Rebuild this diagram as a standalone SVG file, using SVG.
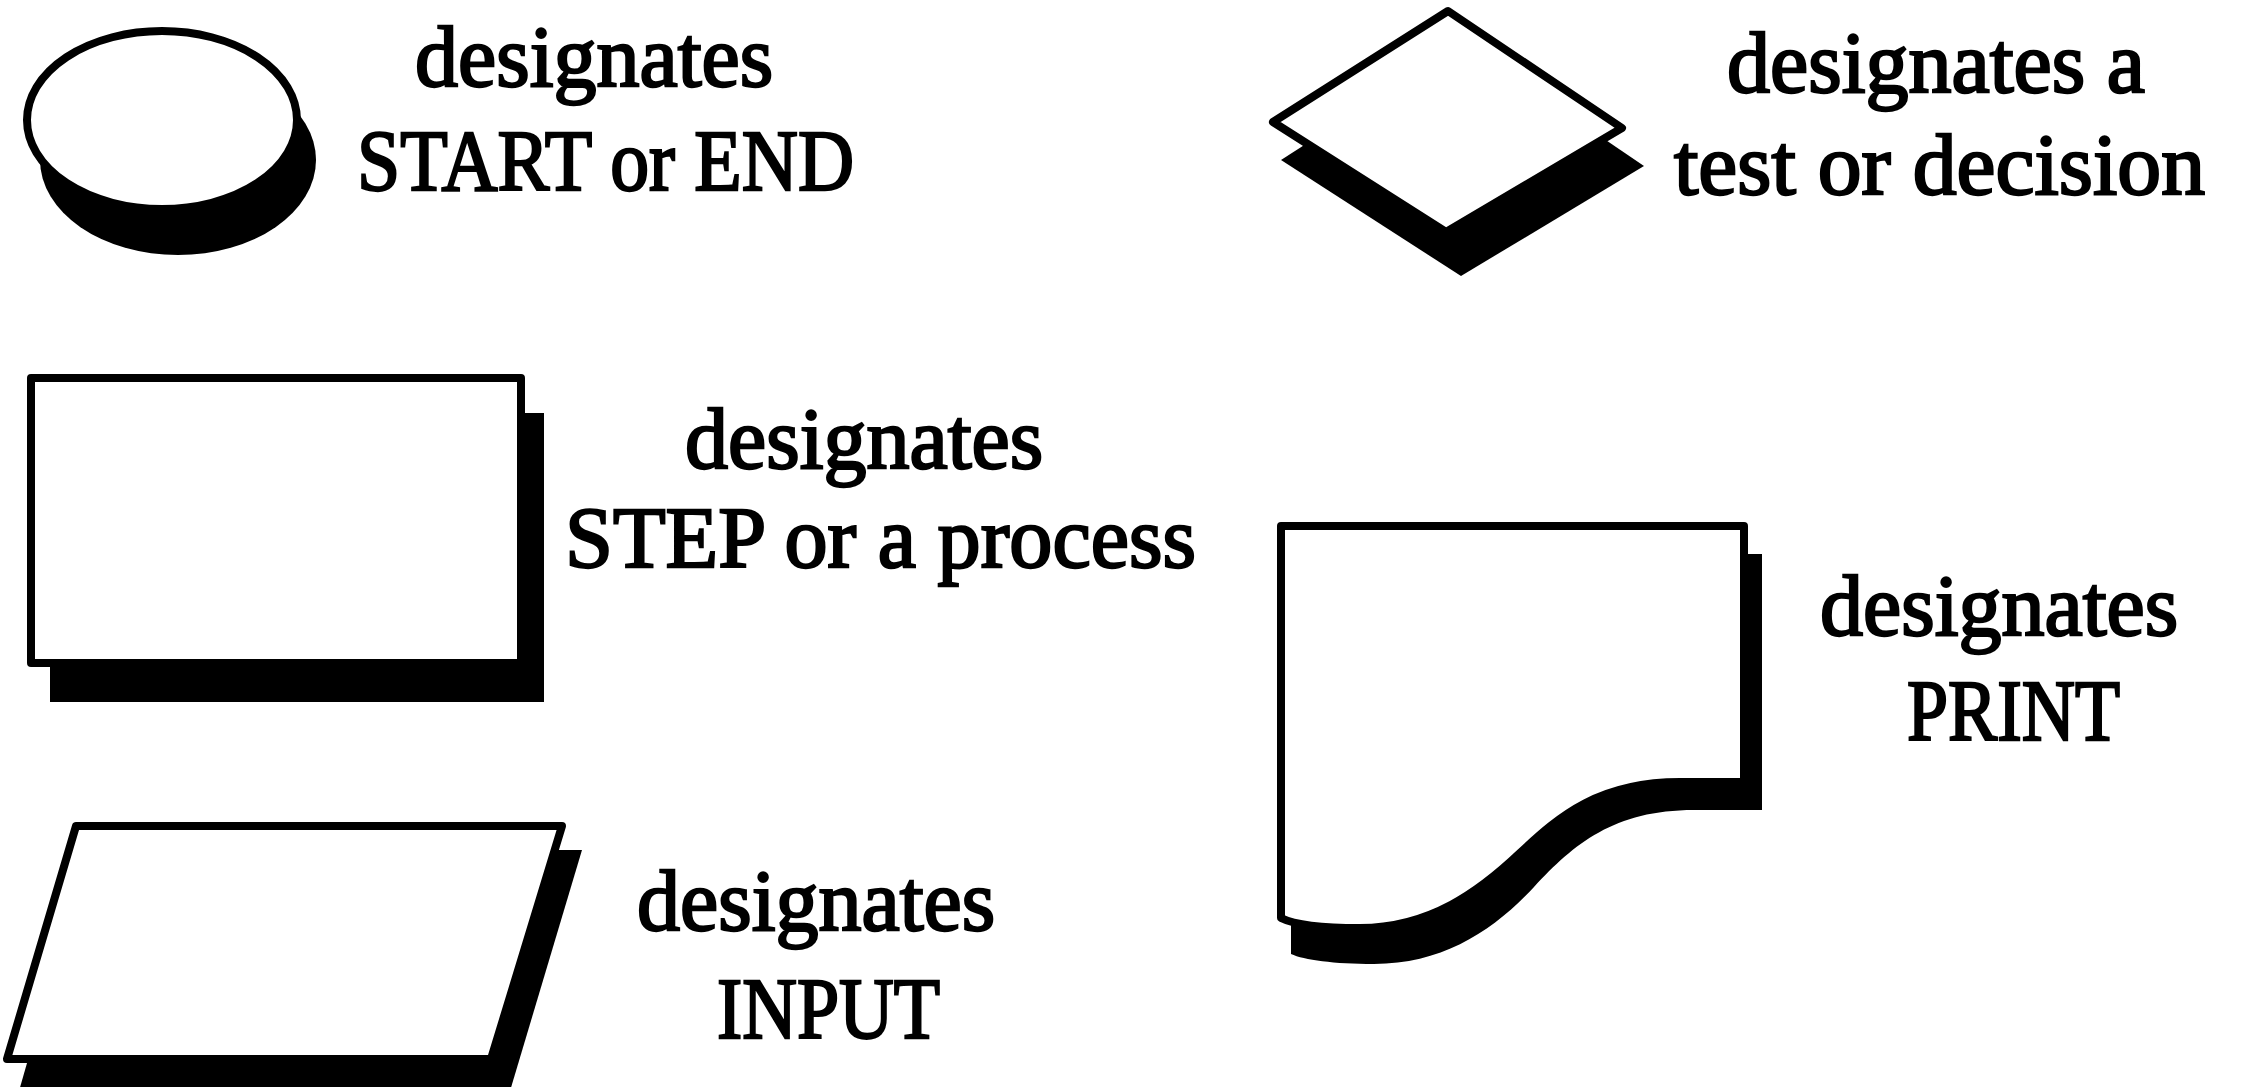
<svg xmlns="http://www.w3.org/2000/svg" width="2252" height="1087" viewBox="0 0 2252 1087">
<style>
.bg{fill:#fff}
.shadow{fill:#000;stroke:none}
.shape{fill:#fff;stroke:#000;stroke-width:8;stroke-linejoin:round}
.lbl{font-family:"Liberation Serif","Times New Roman",serif;font-size:86px;fill:#000;stroke:#000;stroke-width:2.4}
</style>
<rect class="bg" x="0" y="0" width="2252" height="1087"/>
<g id="connectors"></g>
<g id="terminal">
<ellipse class="shadow" cx="178" cy="160" rx="138" ry="95"/>
<ellipse class="shape" cx="162" cy="120" rx="135" ry="89"/>
<text class="lbl" x="415" y="86">designates</text>
<text class="lbl" x="357" y="190" textLength="497" lengthAdjust="spacingAndGlyphs">START or END</text>
</g>
<g id="decision">
<polygon class="shadow" points="1463,43 1644,166 1461,276 1281,160"/>
<polygon class="shape" points="1448,11 1622,128 1446,232 1273,122"/>
<text class="lbl" x="1727" y="92">designates a</text>
<text class="lbl" x="1674" y="194" textLength="531" lengthAdjust="spacingAndGlyphs">test or decision</text>
</g>
<g id="process">
<rect class="shadow" x="50" y="413" width="494" height="289"/>
<rect class="shape" x="31" y="378" width="490" height="285" stroke-width="7"/>
<text class="lbl" x="685" y="468">designates</text>
<text class="lbl" x="565" y="567" textLength="631" lengthAdjust="spacingAndGlyphs">STEP or a process</text>
</g>
<g id="print">
<path class="shadow" transform="translate(14,32)" d="M1277,522 H1748 V778 H1680 C1600,778 1560,812 1520,855 C1480,898 1430,932 1360,932 C1320,932 1290,928 1277,922 Z"/>
<path class="shape" d="M1281,526 H1744 V782 H1680 C1600,782 1560,815 1520,853 C1480,891 1430,928 1360,928 C1320,928 1295,925 1281,918 Z"/>
<text class="lbl" x="1820" y="635">designates</text>
<text class="lbl" x="1907" y="740" textLength="213" lengthAdjust="spacingAndGlyphs">PRINT</text>
</g>
<g id="input">
<polygon class="shadow" points="88,850 582,850 510,1091 19,1091"/>
<polygon class="shape" points="76,826 562,826 491,1059 7,1059" stroke-width="7"/>
<text class="lbl" x="637" y="930">designates</text>
<text class="lbl" x="717" y="1038" textLength="223" lengthAdjust="spacingAndGlyphs">INPUT</text>
</g>
</svg>
